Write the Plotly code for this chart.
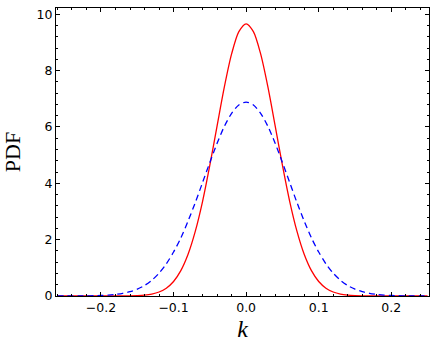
import plotly.graph_objects as go

# k grid and PDF values
k = [-0.26, -0.25, -0.24, -0.23, -0.22, -0.21, -0.20, -0.19, -0.18, -0.17, -0.16,
     -0.15, -0.14, -0.13, -0.12, -0.11, -0.10, -0.09, -0.08, -0.07, -0.06, -0.05,
     -0.04, -0.03, -0.02, -0.01, 0.00, 0.01, 0.02, 0.03, 0.04, 0.05, 0.06, 0.07,
     0.08, 0.09, 0.10, 0.11, 0.12, 0.13, 0.14, 0.15, 0.16, 0.17, 0.18, 0.19, 0.20,
     0.21, 0.22, 0.23, 0.24, 0.25]

pdf_red = [0.0, 0.0, 0.0, 0.0, 0.0, 0.0, 0.0, 0.0, 0.001, 0.002, 0.005,
           0.013, 0.031, 0.068, 0.142, 0.278, 0.515, 0.899, 1.48, 2.30, 3.36, 4.64,
           6.04, 7.42, 8.59, 9.38, 9.66, 9.38, 8.59, 7.42, 6.04, 4.64, 3.36, 2.30,
           1.48, 0.899, 0.515, 0.278, 0.142, 0.068, 0.031, 0.013, 0.005, 0.002, 0.001, 0.0, 0.0,
           0.0, 0.0, 0.0, 0.0, 0.0]

pdf_blue = [0.0003, 0.0007, 0.0013, 0.0027, 0.005, 0.0098, 0.018, 0.032, 0.056, 0.094, 0.153,
            0.243, 0.373, 0.558, 0.809, 1.14, 1.56, 2.06, 2.66, 3.32, 4.03, 4.74,
            5.42, 6.02, 6.48, 6.78, 6.88, 6.78, 6.48, 6.02, 5.42, 4.74, 4.03, 3.32,
            2.66, 2.06, 1.56, 1.14, 0.809, 0.558, 0.373, 0.243, 0.153, 0.094, 0.056, 0.032, 0.018,
            0.0098, 0.005, 0.0027, 0.0013, 0.0007]

fig = go.Figure()
fig.add_trace(go.Scatter(x=k, y=pdf_red, mode='lines',
                         line=dict(color='#ff0000', width=1.3, shape='spline', smoothing=0.8)))
fig.add_trace(go.Scatter(x=k, y=pdf_blue, mode='lines',
                         line=dict(color='#0000ff', width=1.3, dash='6px,4px',
                                   shape='spline', smoothing=0.8)))

axis_common = dict(
    showgrid=False, zeroline=False, showline=True, linecolor='black', linewidth=1,
    mirror='allticks', ticks='inside', ticklen=4, tickwidth=1, tickcolor='black',
    tickfont=dict(family='DejaVu Sans', size=12.5, color='black'), automargin=False,
)

fig.update_xaxes(
    range=[-0.262, 0.252], dtick=0.1, tick0=0, tickformat='.1f',
    minor=dict(ticks='inside', ticklen=2, dtick=0.02, tick0=0, tickcolor='black'),
    title=dict(text='<i>k</i>', font=dict(family='Liberation Serif', size=24, color='black'),
               standoff=6),
    **axis_common,
)
fig.update_yaxes(
    range=[0, 10.22], dtick=2, tick0=0,
    minor=dict(ticks='inside', ticklen=2, dtick=0.4, tick0=0, tickcolor='black'),
    title=dict(text='PDF', font=dict(family='Liberation Serif', size=22, color='black'),
               standoff=14),
    **axis_common,
)

fig.update_layout(
    width=436, height=349,
    margin=dict(l=56, r=7, t=8, b=53),
    showlegend=False,
    plot_bgcolor='white', paper_bgcolor='white',
)

# page body has a default 8px margin, drop it so the figure sits at the window corner
fig.write_html("out.html", config={'displayModeBar': False},
               post_script="document.body.style.margin='0';")
